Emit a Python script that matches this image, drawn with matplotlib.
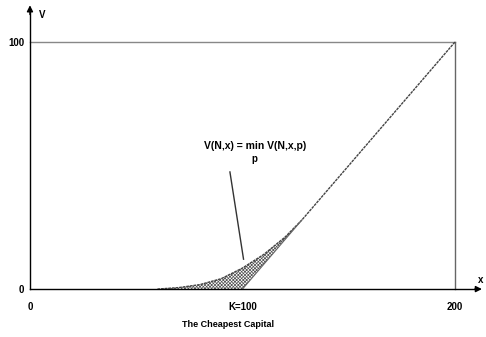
import numpy as np
import matplotlib
matplotlib.use("Agg")
from matplotlib import pyplot as plt

# value function V(N,x) and the kinked payoff max(x-K,0)
K = 100
x_curve = [60, 70, 80, 90, 100, 110, 120, 128, 140, 160, 180, 200]
v_curve = [0, 0.6, 1.8, 4.2, 8.5, 14, 21, 28, 40, 60, 80, 100]
x_kink = [60, 100, 128]
v_kink = [0, 0, 28]
xticks = [0, 100, 200]
xtick_labels = ["0", "K=100", "200"]
yticks = [0, 100]
ytick_labels = ["0", "100"]

plt.rcParams['font.family'] = ['Liberation Sans', 'DejaVu Sans']
plt.rcParams['hatch.linewidth'] = 0.5
plt.rcParams['hatch.color'] = '#555555'

fig = plt.figure(figsize=(4.86, 3.37), dpi=100)
ax = fig.add_axes([0, 0, 1, 1])
ax.set_xlim(-14.1, 214.6)
ax.set_ylim(-19.4, 117.0)

# axes through the origin
for side in ["top", "right"]:
    ax.spines[side].set_visible(False)
ax.spines["left"].set_position(("data", 0))
ax.spines["bottom"].set_position(("data", 0))
ax.spines["left"].set_bounds(0, 112)
ax.spines["bottom"].set_bounds(0, 210)
ax.spines["left"].set_linewidth(1.0)
ax.spines["bottom"].set_linewidth(1.0)
ax.annotate("", xy=(0, 116), xytext=(0, 110),
            arrowprops=dict(arrowstyle="-|>", color="black", lw=1.0, mutation_scale=9))
ax.annotate("", xy=(214, 0), xytext=(208, 0),
            arrowprops=dict(arrowstyle="-|>", color="black", lw=1.0, mutation_scale=9))
ax.text(4, 111, "V", fontsize=7, fontweight="bold", va="center", ha="left")
ax.text(212, 3.5, "x", fontsize=7, fontweight="bold", va="center", ha="center")

ax.set_xticks(xticks)
ax.set_xticklabels(xtick_labels, fontsize=7, fontweight="bold")
ax.set_yticks(yticks)
ax.set_yticklabels(ytick_labels, fontsize=7, fontweight="bold")
ax.tick_params(length=0, pad=9)
ax.tick_params(axis="y", pad=4)

# box at V=100 and x=200
ax.plot([0, 200], [100, 100], color="#888888", lw=1.0)
ax.plot([200, 200], [0, 100], color="#666666", lw=1.0)

# shaded gap between the curve and the payoff
v_lower = np.interp(x_curve[:8], x_kink, v_kink)
ax.fill_between(x_curve[:8], v_lower, v_curve[:8], facecolor="white",
                edgecolor="#555555", hatch="xxxxxxxxxx", lw=0)
ax.plot(x_curve, v_curve, color="#444444", lw=1.0, ls=(0, (2, 0.6)))
ax.plot(x_kink[1:], v_kink[1:], color="#666666", lw=0.8)

# label and pointer
ax.text(106, 58, "V(N,x) = min V(N,x,p)", fontsize=7.5, fontweight="bold",
        ha="center", va="center")
ax.text(105.5, 52.5, "p", fontsize=7, fontweight="bold", ha="center", va="center")
ax.plot([94.1, 100.5], [47.4, 12.1], color="#333333", lw=1.0)

ax.text(93, -14.5, "The Cheapest Capital", fontsize=6.5, fontweight="bold",
        ha="center", va="center")

fig.savefig("out.png", dpi=100)
